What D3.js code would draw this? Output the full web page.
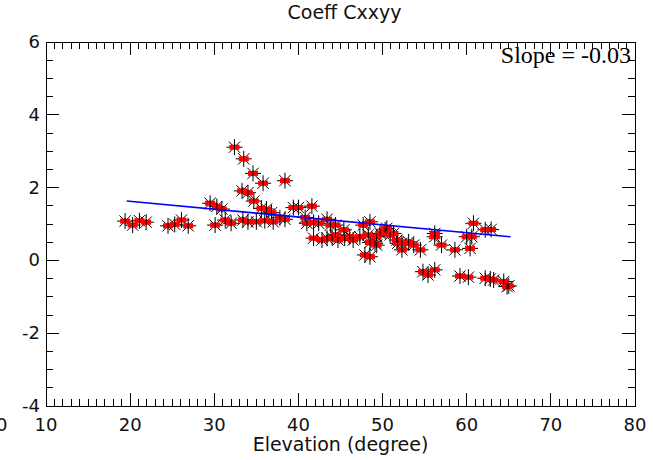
<!DOCTYPE html>
<html><head><meta charset="utf-8">
<script src="https://cdn.jsdelivr.net/npm/d3@7"></script>
<style>
html,body{margin:0;padding:0;background:#fff;}
svg text{font-family:"DejaVu Sans",sans-serif;fill:#111;}
</style></head>
<body><svg id="c" width="654" height="460"></svg>
<script>
const title = "Coeff Cxxyy";
const xTitle = "Elevation (degree)";
const slopeText = "Slope = -0.03";
const xTicks = [10,20,30,40,50,60,70,80];
const yTicks = [-4,-2,0,2,4,6];
const elev = [19.4,20.3,21.1,21.9,24.5,25.3,26.1,26.9,29.5,30.1,30.3,30.9,31.3,32.0,
 32.4,33.5,33.3,34.0,34.6,34.7,35.8,35.6,36.2,36.8,33.4,34.0,35.0,36.0,37.0,
 38.4,37.8,39.4,40.0,41.6,38.4,40.8,41.0,41.8,42.4,43.4,43.8,44.4,45.4,47.7,48.5,
 41.8,42.8,43.4,44.0,44.4,44.7,45.5,46.1,46.5,47.3,48.3,48.5,47.9,48.5,49.3,
 49.7,50.5,51.3,51.7,52.3,53.1,53.7,54.5,52.3,49.3,56.2,56.2,57.0,58.6,60.4,60.8,60.0,60.6,
 54.8,55.4,56.2,59.2,60.2,50.3,49.1,50.9,51.8,62.2,62.9,62.2,63.2,64.4,64.8,65.0,62.8];
const coeff = [1.08,0.97,1.09,1.05,0.95,0.99,1.11,0.95,1.57,0.97,1.48,1.41,1.11,1.02,
 3.11,2.79,1.91,1.86,2.39,1.63,2.12,1.43,1.41,1.31,1.11,1.06,1.06,1.09,1.06,
 2.19,1.17,1.45,1.45,1.49,1.13,1.18,1.02,1.04,1.02,1.13,0.97,0.97,0.84,0.97,1.06,
 0.61,0.56,0.61,0.63,0.70,0.56,0.61,0.65,0.56,0.65,0.70,0.49,0.15,0.10,0.65,
 0.74,0.88,0.74,0.56,0.47,0.51,0.42,0.29,0.29,0.42,0.74,0.65,0.42,0.29,0.33,1.02,0.65,0.65,
 -0.31,-0.40,-0.26,-0.43,-0.46,0.84,0.47,0.70,0.47,0.84,0.85,-0.49,-0.54,-0.58,-0.72,-0.70,-0.51];
const fitX = [19.6, 65.2];
const fitY = [1.63, 0.65];

const svg = d3.select("#c");
const L=46,R=635,T=42,B=406;
const x = d3.scaleLinear().domain([10,80]).range([L,R]);
const y = d3.scaleLinear().domain([-4,6]).range([B,T]);

svg.append("rect").attr("x",L).attr("y",T).attr("width",R-L).attr("height",B-T)
  .attr("fill","none").attr("stroke","#000").attr("stroke-width",1).attr("shape-rendering","crispEdges");

(function ticks(){
  const g = svg.append("g").attr("stroke","#000").attr("stroke-width",1).attr("shape-rendering","crispEdges");
  const xMinor = d3.range(10,80.01,1), yMinor = d3.range(-4,6.01,0.5);
  xMinor.forEach(v=>{ const len = (v%10===0)?13:7;
    g.append("line").attr("x1",x(v)).attr("x2",x(v)).attr("y1",B).attr("y2",B-len);
    g.append("line").attr("x1",x(v)).attr("x2",x(v)).attr("y1",T).attr("y2",T+len);});
  yMinor.forEach(v=>{ const len = (Math.abs(v%2)<1e-9)?13:7;
    g.append("line").attr("y1",y(v)).attr("y2",y(v)).attr("x1",L).attr("x2",L+len);
    g.append("line").attr("y1",y(v)).attr("y2",y(v)).attr("x1",R).attr("x2",R-len);});
})();

svg.append("g").selectAll("text").data(xTicks).join("text")
  .attr("x",d=>x(d)).attr("y",B+25).attr("text-anchor","middle")
  .attr("font-size",18).text(d=>d);
svg.append("g").selectAll("text").data(yTicks).join("text")
  .attr("x",L-6).attr("y",d=>y(d)+6).attr("text-anchor","end")
  .attr("font-size",18).text(d=>d);
svg.append("text").attr("x",-4).attr("y",B+25).attr("font-size",18).text("0");

svg.append("text").attr("x",(L+R)/2).attr("y",B+45).attr("text-anchor","middle")
  .attr("font-size",19).text(xTitle);
svg.append("text").attr("x",(L+R)/2+4).attr("y",19).attr("text-anchor","middle")
  .attr("font-size",19).text(title);
svg.append("text").attr("x",R-4).attr("y",T+21).attr("text-anchor","end")
  .style("font-family","'Liberation Serif',serif").style("fill","#000").attr("font-size",24).text(slopeText);

const pts = elev.map((e,i)=>[e,coeff[i]]);
const r = 8;
const star = svg.append("g").attr("stroke","#000").attr("stroke-width",1);
pts.forEach(p=>{
  const cx=x(p[0]), cy=y(p[1]);
  [0,45,90,135].forEach(a=>{
    const rad=a*Math.PI/180;
    star.append("line").attr("x1",cx-r*Math.cos(rad)).attr("y1",cy-r*Math.sin(rad))
      .attr("x2",cx+r*Math.cos(rad)).attr("y2",cy+r*Math.sin(rad));
  });
});
svg.append("g").selectAll("rect").data(pts).join("rect")
  .attr("x",d=>x(d[0])-5).attr("y",d=>y(d[1])-2.5).attr("width",10).attr("height",5)
  .attr("fill","#ff0000");
svg.append("g").selectAll("line").data(pts).join("line")
  .attr("x1",d=>x(d[0])).attr("x2",d=>x(d[0])).attr("y1",d=>y(d[1])-3).attr("y2",d=>y(d[1])+3)
  .attr("stroke","#000").attr("stroke-width",1);

svg.append("line").attr("x1",x(fitX[0])).attr("y1",y(fitY[0]))
  .attr("x2",x(fitX[1])).attr("y2",y(fitY[1]))
  .attr("stroke","#0000ff").attr("stroke-width",1.6);
</script></body></html>
